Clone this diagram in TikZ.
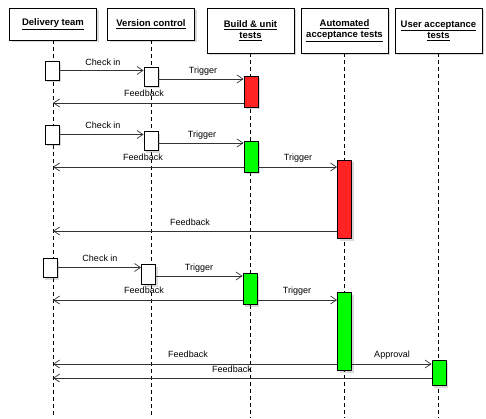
\documentclass[tikz,border=0pt]{standalone}
\usepackage{fontspec}
\setmainfont{Liberation Sans}
\usetikzlibrary{arrows.meta,shadows}
\definecolor{actred}{RGB}{255,35,35}
\definecolor{actgreen}{RGB}{0,255,0}
\begin{document}
\begin{tikzpicture}[x=1pt,y=-1pt,
  hdr/.style={draw=black, fill=white, line width=0.8pt, minimum width=87pt, inner sep=0pt, align=center,
    font=\bfseries\fontsize{9.5}{11}\selectfont,
    drop shadow={opacity=0.3,shadow xshift=2pt,shadow yshift=-2.5pt}},
  act/.style={draw=black, line width=0.8pt, minimum width=14pt, inner sep=0pt,
    drop shadow={opacity=0.3,shadow xshift=2pt,shadow yshift=-2.5pt}},
  life/.style={line width=0.6pt, dash pattern=on 4pt off 3pt},
  msg/.style={draw=black!80, line width=0.7pt, -{Straight Barb[length=6pt,width=8pt,line width=0.7pt]}},
  lbl/.style={font=\fontsize{9}{10}\selectfont, inner sep=0pt}]
\useasboundingbox (0,0) rectangle (486,419);
% headers
\node[hdr, minimum height=32pt] (h1) at (53,24) {\underline{Delivery team}};
\node[hdr, minimum height=32pt] (h2) at (151,24) {\underline{Version control}};
\node[hdr, minimum height=45pt] (h3) at (250.5,30.5) {\underline{Build \& unit}\\\underline{tests}};
\node[hdr, minimum height=45pt] (h4) at (344.5,30.5) {\underline{Automated}\\\underline{acceptance tests}};
\node[hdr, minimum height=45pt] (h5) at (438.5,30.5) {\underline{User acceptance}\\\underline{tests}};
% lifelines
\coordinate (bot) at (0,418);
\draw[life] (h1.south) -- (h1.south |- bot);
\draw[life] (h2.south) -- (h2.south |- bot);
\draw[life] (h3.south) -- (h3.south |- bot);
\draw[life] (h4.south) -- (h4.south |- bot);
\draw[life] (h5.south) -- (h5.south |- bot);
% activations round 1
\node[act, fill=white, minimum height=19pt] (d1) at (52,70.5) {};
\node[act, fill=white, minimum height=19pt] (v1) at (151,76.5) {};
\node[act, fill=actred, minimum height=31pt] (b1) at (251,91.5) {};
% round 2
\node[act, fill=white, minimum height=19pt] (d2) at (52,134.5) {};
\node[act, fill=white, minimum height=19pt] (v2) at (151,141) {};
\node[act, fill=actgreen, minimum height=31pt] (b2) at (251,156.5) {};
\node[act, fill=actred, minimum height=78pt] (a2) at (344.5,199) {};
% round 3
\node[act, fill=white, minimum height=19pt] (d3) at (50,267.5) {};
\node[act, fill=white, minimum height=20pt] (v3) at (148.5,274) {};
\node[act, fill=actgreen, minimum height=31pt] (b3) at (250,288.5) {};
\node[act, fill=actgreen, minimum height=78pt] (a3) at (344.5,331) {};
\node[act, fill=actgreen, minimum height=25pt] (u3) at (439,372.5) {};
% message y levels
\coordinate (y1) at (0,70.5);
\coordinate (y2) at (0,79);
\coordinate (y3) at (0,103);
\coordinate (y4) at (0,134.5);
\coordinate (y5) at (0,143);
\coordinate (y6) at (0,167);
\coordinate (y7) at (0,231);
\coordinate (y8) at (0,267.5);
\coordinate (y9) at (0,276);
\coordinate (y10) at (0,300);
\coordinate (y11) at (0,364);
\coordinate (y12) at (0,378);
% round 1 messages
\draw[msg] (d1.east |- y1) -- (v1.west |- y1);
\draw[msg] (v1.east |- y2) -- (b1.west |- y2);
\draw[msg] (b1.west |- y3) -- (h1 |- y3);
% round 2 messages
\draw[msg] (d2.east |- y4) -- (v2.west |- y4);
\draw[msg] (v2.east |- y5) -- (b2.west |- y5);
\draw[msg] (b2.west |- y6) -- (h1 |- y6);
\draw[msg] (b2.east |- y6) -- (a2.west |- y6);
\draw[msg] (a2.west |- y7) -- (h1 |- y7);
% round 3 messages
\draw[msg] (d3.east |- y8) -- (v3.west |- y8);
\draw[msg] (v3.east |- y9) -- (b3.west |- y9);
\draw[msg] (b3.west |- y10) -- (h1 |- y10);
\draw[msg] (b3.east |- y10) -- (a3.west |- y10);
\draw[msg] (a3.west |- y11) -- (h1 |- y11);
\draw[msg] (a3.east |- y11) -- (u3.west |- y11);
\draw[msg] (u3.west |- y12) -- (h1 |- y12);
% labels
\node[lbl] (l1) at (103,62) {Check in};
\node[lbl] (l2) at (203,71) {Trigger};
\node[lbl] (l3) at (144,93) {Feedback};
\node[lbl] (l4) at (103,125) {Check in};
\node[lbl] (l5) at (202,135) {Trigger};
\node[lbl] (l6) at (143,157) {Feedback};
\node[lbl] (l7) at (298,158) {Trigger};
\node[lbl] (l8) at (190,222) {Feedback};
\node[lbl] (l9) at (100,258) {Check in};
\node[lbl] (l10) at (199,268) {Trigger};
\node[lbl] (l11) at (144,290) {Feedback};
\node[lbl] (l12) at (297,291) {Trigger};
\node[lbl] (l13) at (188,354) {Feedback};
\node[lbl] (l14) at (392,355) {Approval};
\node[lbl] (l15) at (232,369) {Feedback};
\end{tikzpicture}
\end{document}
